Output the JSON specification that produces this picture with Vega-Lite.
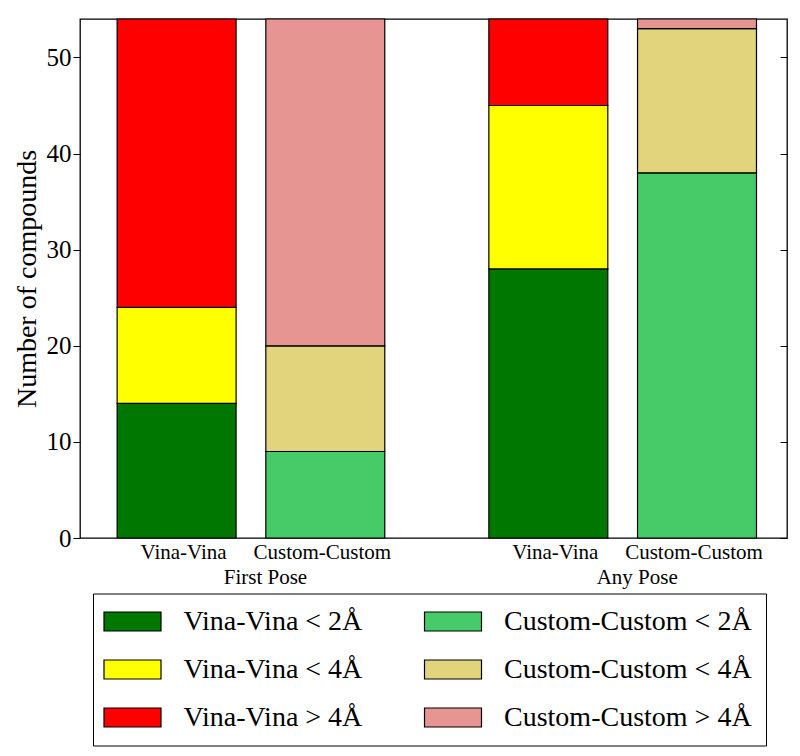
{
  "$schema": "https://vega.github.io/schema/vega-lite/v6.json",
  "width": 707,
  "height": 519,
  "autosize": {"type": "none"},
  "padding": {"left": 80, "top": 19, "right": 13, "bottom": 218},
  "background": "white",
  "config": {
    "font": "Liberation Serif",
    "view": {"stroke": "black", "strokeWidth": 1.3},
    "axis": {"grid": false, "domain": false, "labelColor": "black", "titleColor": "black", "tickColor": "black", "labelFont": "Liberation Serif", "titleFont": "Liberation Serif"}
  },
  "data": {
    "values": [
      {"pose": "First Pose", "method": "Vina-Vina", "series": "Vina-Vina < 2Å", "rank": 0, "count": 14},
      {"pose": "First Pose", "method": "Vina-Vina", "series": "Vina-Vina < 4Å", "rank": 1, "count": 10},
      {"pose": "First Pose", "method": "Vina-Vina", "series": "Vina-Vina > 4Å", "rank": 2, "count": 30},
      {"pose": "First Pose", "method": "Custom-Custom", "series": "Custom-Custom < 2Å", "rank": 0, "count": 9},
      {"pose": "First Pose", "method": "Custom-Custom", "series": "Custom-Custom < 4Å", "rank": 1, "count": 11},
      {"pose": "First Pose", "method": "Custom-Custom", "series": "Custom-Custom > 4Å", "rank": 2, "count": 34},
      {"pose": "Any Pose", "method": "Vina-Vina", "series": "Vina-Vina < 2Å", "rank": 0, "count": 28},
      {"pose": "Any Pose", "method": "Vina-Vina", "series": "Vina-Vina < 4Å", "rank": 1, "count": 17},
      {"pose": "Any Pose", "method": "Vina-Vina", "series": "Vina-Vina > 4Å", "rank": 2, "count": 9},
      {"pose": "Any Pose", "method": "Custom-Custom", "series": "Custom-Custom < 2Å", "rank": 0, "count": 38},
      {"pose": "Any Pose", "method": "Custom-Custom", "series": "Custom-Custom < 4Å", "rank": 1, "count": 15},
      {"pose": "Any Pose", "method": "Custom-Custom", "series": "Custom-Custom > 4Å", "rank": 2, "count": 1}
    ]
  },
  "encoding": {
    "x": {
      "field": "pose", "type": "nominal",
      "scale": {"domain": ["First Pose", "Any Pose"], "paddingInner": 0.28, "paddingOuter": 0.091, "align": 0.549},
      "axis": {"title": null, "ticks": false, "labelAngle": 0, "labelFontSize": 21, "labelPadding": 45, "labelBaseline": "alphabetic", "labelOffset": 14.5}
    },
    "xOffset": {
      "field": "method", "type": "nominal",
      "scale": {"domain": ["Vina-Vina", "Custom-Custom"], "paddingInner": 0.2, "paddingOuter": 0}
    }
  },
  "layer": [
    {
      "mark": {"type": "bar", "stroke": "black", "strokeWidth": 1.2, "opacity": 1},
      "encoding": {
        "y": {
          "field": "count", "type": "quantitative", "stack": "zero",
          "scale": {"domain": [0, 54], "nice": false},
          "axis": {"values": [0, 10, 20, 30, 40, 50], "labelFontSize": 25, "tickSize": 7, "labelPadding": 2, "title": "Number of compounds", "titleFontSize": 28, "titleFontWeight": "normal", "titlePadding": 5}
        },
        "order": {"field": "rank", "type": "quantitative"},
        "color": {
          "field": "series", "type": "nominal",
          "scale": {
            "domain": ["Vina-Vina < 2Å", "Vina-Vina < 4Å", "Vina-Vina > 4Å", "Custom-Custom < 2Å", "Custom-Custom < 4Å", "Custom-Custom > 4Å"],
            "range": ["#007800", "#ffff00", "#ff0000", "#46cb68", "#e2d47d", "#e69592"]
          },
          "legend": {
            "orient": "none", "legendX": 13, "legendY": 574.5, "columns": 2, "title": null,
            "symbolType": "M-3,-1H3V1H-3Z", "symbolSize": 361, "symbolOffset": 11.5,
            "symbolStrokeColor": "black", "symbolStrokeWidth": 1.2, "symbolOpacity": 1,
            "labelFontSize": 28, "labelOffset": 37, "labelLimit": 0, "labelColor": "black", "labelFont": "Liberation Serif",
            "columnPadding": 58.5, "rowPadding": 20, "padding": 14,
            "strokeColor": "black", "fillColor": "white"
          }
        }
      }
    },
    {
      "transform": [{"filter": "datum.rank == 0 && datum.method == 'Vina-Vina'"}],
      "mark": {"type": "text", "fontSize": 21, "baseline": "alphabetic", "dy": 21, "dx": 7, "color": "black"},
      "encoding": {
        "y": {"datum": 0, "type": "quantitative", "axis": null},
        "text": {"field": "method"}
      }
    },
    {
      "transform": [{"filter": "datum.rank == 0 && datum.method == 'Custom-Custom'"}],
      "mark": {"type": "text", "fontSize": 21, "baseline": "alphabetic", "dy": 21, "dx": -3, "color": "black"},
      "encoding": {
        "y": {"datum": 0, "type": "quantitative", "axis": {"orient": "right", "values": [0, 10, 20, 30, 40, 50], "labels": false, "tickSize": -7, "title": null}},
        "text": {"field": "method"}
      }
    }
  ],
  "resolve": {"axis": {"y": "independent"}}
}
